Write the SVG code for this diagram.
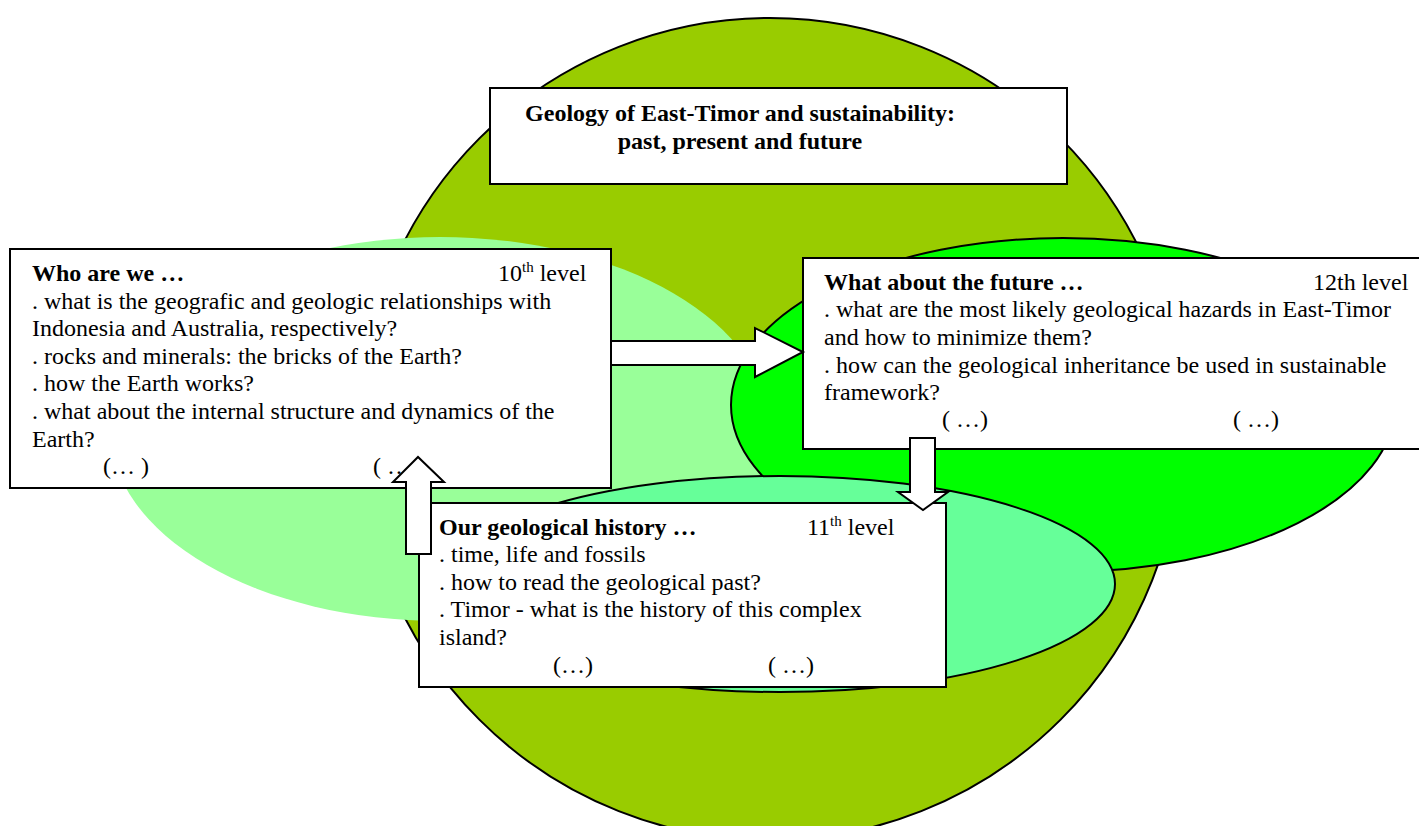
<svg xmlns="http://www.w3.org/2000/svg" width="1419" height="826" viewBox="0 0 1419 826" xml:space="preserve">
<style>
.bx{fill:#fff;stroke:#000;stroke-width:2}
.ar{fill:#fff;stroke:#000;stroke-width:2;stroke-linejoin:miter}
.t{font-family:"Liberation Serif","Times New Roman",serif;font-size:24px;fill:#000}
.b{font-weight:bold}
.sup{font-size:15px}
</style>
<rect width="1419" height="826" fill="#fff"/>
<g id="background">
<circle id="circle" cx="770" cy="429" r="411" fill="#99CC00" stroke="#000" stroke-width="2"/>
<ellipse id="ell-left" cx="440" cy="429" rx="330" ry="192" fill="#99FF99"/>
<ellipse id="ell-right" cx="1063" cy="405" rx="332" ry="167" fill="#00FF00" stroke="#000" stroke-width="2"/>
<ellipse id="ell-bottom" cx="780" cy="584" rx="335" ry="108" fill="#66FF99" stroke="#000" stroke-width="2"/>
</g>
<g id="title">
<rect class="bx" x="490" y="88" width="577" height="96"/>
<text class="t b" x="740" y="121" text-anchor="middle">Geology of East-Timor and sustainability:</text>
<text class="t b" x="740" y="149" text-anchor="middle">past, present and  future</text>
</g>
<g id="who">
<rect class="bx" x="10" y="249" width="601" height="239"/>
<text class="t b" x="32" y="281">Who are we …</text>
<text class="t" x="498" y="281">10<tspan class="sup" dy="-9">th</tspan><tspan dy="9"> level</tspan></text>
<text class="t" x="32" y="309">. what is the geografic and geologic relationships with</text>
<text class="t" x="32" y="336">Indonesia and Australia, respectively?</text>
<text class="t" x="32" y="364">. rocks and minerals: the bricks of the Earth?</text>
<text class="t" x="32" y="391">. how the Earth works?</text>
<text class="t" x="32" y="419">. what about the internal structure and  dynamics of the</text>
<text class="t" x="32" y="447">Earth?</text>
<text class="t" x="103" y="474">(… )</text>
<text class="t" x="373" y="474">( … )</text>
</g>
<g id="future">
<rect class="bx" x="803" y="258" width="630" height="191"/>
<text class="t b" x="824" y="290">What about the future …</text>
<text class="t" x="1313" y="290">12th level</text>
<text class="t" x="824" y="317">. what are the most likely geological hazards in East-Timor</text>
<text class="t" x="824" y="345">and how to minimize them?</text>
<text class="t" x="824" y="373">.  how  can the geological inheritance be used in  sustainable</text>
<text class="t" x="824" y="400">framework?</text>
<text class="t" x="942" y="427">( …)</text>
<text class="t" x="1233" y="427">( …)</text>
</g>
<g id="history">
<rect class="bx" x="419" y="503" width="527" height="184"/>
<text class="t b" x="439" y="535">Our geological history …</text>
<text class="t" x="807" y="535">11<tspan class="sup" dy="-9">th</tspan><tspan dy="9"> level</tspan></text>
<text class="t" x="439" y="562">. time, life and fossils</text>
<text class="t" x="439" y="590">. how to read the geological past?</text>
<text class="t" x="439" y="617">. Timor  - what is the history of this complex</text>
<text class="t" x="439" y="645">island?</text>
<text class="t" x="553" y="673">(…)</text>
<text class="t" x="768" y="673">( …)</text>
</g>
<g id="connectors">
<polygon class="ar" points="611,341 755,341 755,328 803,352 755,377 755,365 611,365"/>
<polygon class="ar" points="406,554 406,482 393,482 418,457 444,482 431,482 431,554"/>
<polygon class="ar" points="910,438 935,438 935,492 948,492 923,510 898,492 910,492"/>
</g>
</svg>
